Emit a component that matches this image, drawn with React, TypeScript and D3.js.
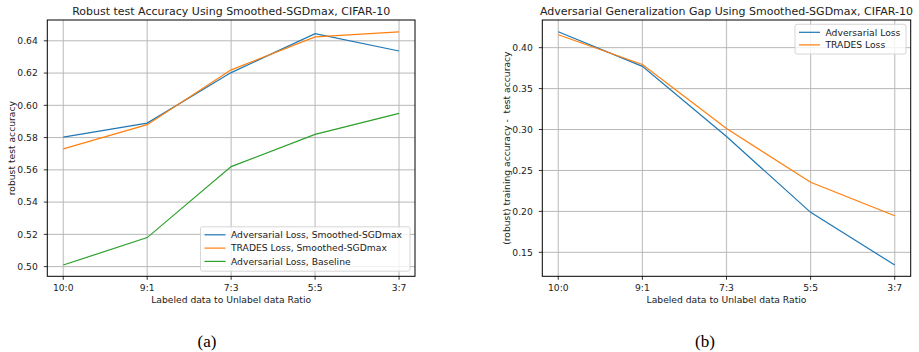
import * as d3 from "d3";

const ratios = ["10:0", "9:1", "7:3", "5:5", "3:7"];

// panel (a): robust test accuracy
const advSmoothed = [0.5803, 0.589, 0.6203, 0.6444, 0.6337];
const tradesSmoothed = [0.573, 0.588, 0.622, 0.6424, 0.6455];
const advBaseline = [0.501, 0.518, 0.562, 0.582, 0.595];
const accTicks = [0.5, 0.52, 0.54, 0.56, 0.58, 0.6, 0.62, 0.64];

// panel (b): generalization gap
const gapAdv = [0.4195, 0.3772, 0.2915, 0.1988, 0.1345];
const gapTrades = [0.4158, 0.3795, 0.3012, 0.2355, 0.1947];
const gapTicks = [0.15, 0.2, 0.25, 0.3, 0.35, 0.4];

const BLUE = "#1f77b4";
const ORANGE = "#ff7f0e";
const GREEN = "#2ca02c";
const FONT = "DejaVu Sans, sans-serif";
const FS = 9.2;

type Series = { name: string; color: string; values: number[] };

type PanelProps = {
  left: number;
  right: number;
  top: number;
  bottom: number;
  yDomain: [number, number];
  yTicks: number[];
  title: string;
  yLabel: string;
  series: Series[];
  legend: { x: number; y: number; w: number; rowH: number };
};

const Panel = (p: PanelProps) => {
  const x = d3.scalePoint<string>().domain(ratios).range([p.left, p.right]).padding(0.19);
  const y = d3.scaleLinear().domain(p.yDomain).range([p.bottom, p.top]);
  const fmt = d3.format(".2f");
  const line = d3
    .line<number>()
    .x((_, i) => x(ratios[i])!)
    .y((d) => y(d));
  const cx = (p.left + p.right) / 2;
  const cy = (p.top + p.bottom) / 2;
  const legH = p.series.length * p.legend.rowH + 4.5;

  return (
    <g fontFamily={FONT}>
      {/* grid */}
      {ratios.map((r) => (
        <line key={r} x1={x(r)} x2={x(r)} y1={p.top} y2={p.bottom} stroke="#c4c4c4" strokeWidth={1.2} />
      ))}
      {p.yTicks.map((t) => (
        <line key={t} x1={p.left} x2={p.right} y1={y(t)} y2={y(t)} stroke="#b8b8b8" strokeWidth={1} />
      ))}
      {/* lines */}
      {p.series.map((s) => (
        <path key={s.name} d={line(s.values)!} fill="none" stroke={s.color} strokeWidth={1.2} />
      ))}
      {/* spines */}
      <rect x={p.left} y={p.top} width={p.right - p.left} height={p.bottom - p.top} fill="none" stroke="#000" strokeWidth={1} />
      {/* x ticks */}
      {ratios.map((r) => (
        <g key={r}>
          <line x1={x(r)} x2={x(r)} y1={p.bottom} y2={p.bottom + 3.5} stroke="#000" strokeWidth={0.8} />
          <text x={x(r)} y={p.bottom + 14.7} textAnchor="middle" fontSize={FS} fill="#222">
            {r}
          </text>
        </g>
      ))}
      {/* y ticks */}
      {p.yTicks.map((t) => (
        <g key={t}>
          <line x1={p.left - 3.5} x2={p.left} y1={y(t)} y2={y(t)} stroke="#000" strokeWidth={0.8} />
          <text x={p.left - 9.5} y={y(t) + 3.3} textAnchor="end" fontSize={FS} fill="#222">
            {fmt(t)}
          </text>
        </g>
      ))}
      <text x={cx} y={p.top - 5} textAnchor="middle" fontSize={11} fill="#222">
        {p.title}
      </text>
      <text x={cx} y={p.bottom + 26.5} textAnchor="middle" fontSize={FS} fill="#222">
        Labeled data to Unlabel data Ratio
      </text>
      <text
        transform={`translate(${p.left - 32.5},${cy}) rotate(-90)`}
        textAnchor="middle"
        fontSize={FS}
        fill="#222"
        style={{ whiteSpace: "pre" }}
      >
        {p.yLabel}
      </text>
      {/* legend */}
      <rect
        x={p.legend.x}
        y={p.legend.y}
        width={p.legend.w}
        height={legH}
        rx={2}
        fill="#fff"
        fillOpacity={0.8}
        stroke="#cccccc"
        strokeWidth={0.8}
      />
      {p.series.map((s, i) => {
        const ly = p.legend.y + 8 + i * p.legend.rowH;
        return (
          <g key={s.name}>
            <line x1={p.legend.x + 4} x2={p.legend.x + 25} y1={ly} y2={ly} stroke={s.color} strokeWidth={1.2} />
            <text x={p.legend.x + 30.5} y={ly + 3.3} fontSize={FS} fill="#222">
              {s.name}
            </text>
          </g>
        );
      })}
    </g>
  );
};

export default function App() {
  return (
    <svg width={919} height={352} style={{ display: "block", position: "absolute", left: 0, top: 0 }}>
      <rect width={919} height={352} fill="#fff" />
      <Panel
        left={47.3}
        right={415}
        top={20}
        bottom={276.3}
        yDomain={[0.494, 0.6529]}
        yTicks={accTicks}
        title="Robust test Accuracy Using Smoothed-SGDmax, CIFAR-10"
        yLabel="robust test accuracy"
        series={[
          { name: "Adversarial Loss, Smoothed-SGDmax", color: BLUE, values: advSmoothed },
          { name: "TRADES Loss, Smoothed-SGDmax", color: ORANGE, values: tradesSmoothed },
          { name: "Adversarial Loss, Baseline", color: GREEN, values: advBaseline },
        ]}
        legend={{ x: 200.5, y: 226.8, w: 209.5, rowH: 13.3 }}
      />
      <Panel
        left={542.3}
        right={910.7}
        top={20}
        bottom={276.3}
        yDomain={[0.1207, 0.4338]}
        yTicks={gapTicks}
        title="Adversarial Generalization Gap Using Smoothed-SGDmax, CIFAR-10"
        yLabel="(robust) training accuracy -  test accuracy"
        series={[
          { name: "Adversarial Loss", color: BLUE, values: gapAdv },
          { name: "TRADES Loss", color: ORANGE, values: gapTrades },
        ]}
        legend={{ x: 795, y: 24.3, w: 111, rowH: 12.6 }}
      />
      <text x={207} y={346.5} textAnchor="middle" fontFamily="Liberation Serif, serif" fontSize={17}>
        (a)
      </text>
      <text x={705} y={346.5} textAnchor="middle" fontFamily="Liberation Serif, serif" fontSize={17}>
        (b)
      </text>
    </svg>
  );
}
